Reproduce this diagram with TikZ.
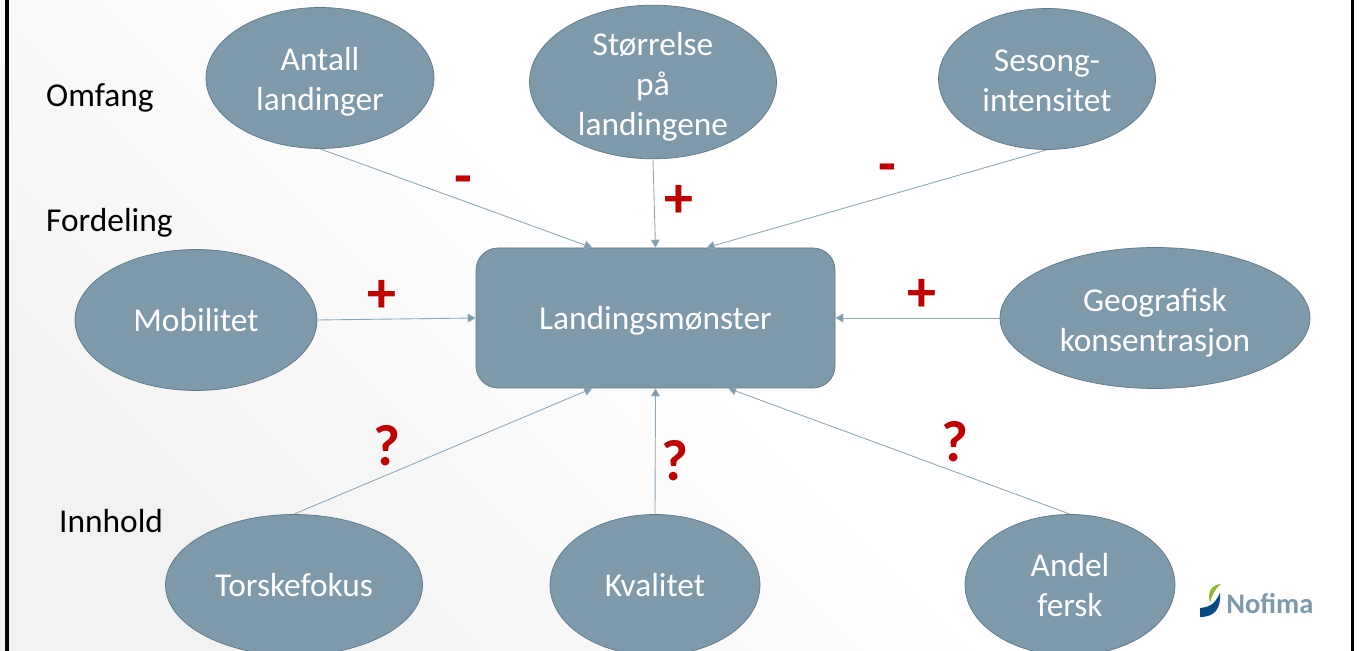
\documentclass[tikz,border=0pt]{standalone}
\usepackage{fontspec}
\setmainfont{Carlito}
\usetikzlibrary{arrows.meta,shapes.geometric}
\definecolor{slate}{HTML}{7E99AA}
\definecolor{slateline}{HTML}{5F7888}
\definecolor{linkcol}{HTML}{8FA8B8}
\definecolor{signred}{HTML}{C00000}
\definecolor{logoblue}{HTML}{0B4A80}
\definecolor{logogreen}{HTML}{8DB92E}
\newcommand{\lowtext}[2]{\raisebox{-#1pt}[\height][\depth]{#2}}
\tikzset{
  factor/.style={ellipse,draw=slateline,fill=slate,text=white,inner sep=0pt,minimum height=2.82cm,align=center,
    font=\fontsize{19}{22.7}\selectfont},
  link/.style={draw=linkcol,line width=0.5pt,-{Triangle[length=4.5pt,width=5pt,fill=slate]}},
  sign/.style={text=signred,font=\fontsize{33}{33}\selectfont\bfseries},
  level/.style={text=black,font=\fontsize{19}{22}\selectfont},
}
\begin{document}
\begin{tikzpicture}
  \clip (0,0) rectangle (27.18,13.02);
  \shade[top color=white,bottom color=black!5,middle color=white,shading angle=-45] (0,0) rectangle (27.18,13.02);
  \draw[line width=2pt,black] (0.14,0) -- (0.14,13.02);
  \draw[line width=2pt,black] (27.05,0) -- (27.05,13.02);

  \node[draw=slateline,fill=slate,text=white,rounded corners=0.44cm,minimum width=7.18cm,minimum height=2.8cm,
    font=\fontsize{19}{22}\selectfont] (landing) at (13.11,6.66) {\lowtext{1.7}{Landingsmønster}};

  \node[factor,minimum width=4.56cm] (antall) at (6.40,11.46) {\lowtext{2.3}{Antall}\\\lowtext{2.3}{landinger}};
  \node[factor,minimum width=4.94cm] (storrelse) at (13.06,11.38) {\lowtext{2.8}{Størrelse}\\\lowtext{2.8}{på}\\\lowtext{2.8}{landingene}};
  \node[factor,minimum width=4.34cm] (sesong) at (20.94,11.44) {\lowtext{1.2}{Sesong-}\\\lowtext{1.2}{intensitet}};
  \node[factor,minimum width=4.84cm] (mobilitet) at (3.92,6.62) {Mobilitet};
  \node[factor,minimum width=6.20cm] (geografisk) at (23.10,6.66) {\lowtext{2.8}{Geografisk}\\\lowtext{2.8}{konsentrasjon}};
  \node[factor,minimum width=5.14cm] (torsk) at (5.88,1.32) {Torskefokus};
  \node[factor,minimum width=4.20cm] (kvalitet) at (13.10,1.32) {Kvalitet};
  \node[factor,minimum width=4.20cm] (andel) at (21.40,1.32) {Andel\\fersk};

  \draw[link] (antall.south) -- (landing.132);
  \draw[link] (storrelse.south) -- (landing.north);
  \draw[link] (sesong.south) -- (landing.54);
  \draw[link] (mobilitet.east) -- (landing.west);
  \draw[link] (geografisk.west) -- (landing.east);
  \draw[link] (torsk.north) -- (landing.228);
  \draw[link] (kvalitet.north) -- (landing.south);
  \draw[link] (andel.north) -- (landing.-44);

  \node[sign] (s1) at (9.26,9.30) {-};
  \node[sign] (s2) at (13.57,9.00) {+};
  \node[sign] (s3) at (17.74,9.54) {-};
  \node[sign] (s4) at (7.63,7.10) {+};
  \node[sign] (s5) at (18.43,7.12) {+};
  \node[sign] (s6) at (7.74,4.10) {?};
  \node[sign] (s7) at (13.50,3.80) {?};
  \node[sign] (s8) at (19.10,4.18) {?};

  \node[level,anchor=west] (omfang) at (0.80,11.06) {Omfang};
  \node[level,anchor=west] (fordeling) at (0.80,8.56) {Fordeling};
  \node[level,anchor=west] (innhold) at (1.06,2.60) {Innhold};

  % logo
  \fill[logoblue] (24.0,0.68) -- (24.0,0.86) .. controls (24.25,0.88) and (24.32,1.0) .. (24.40,1.16)
    .. controls (24.42,0.85) and (24.3,0.68) .. (24.0,0.68);
  \fill[logogreen] (24.2,0.96) .. controls (24.14,1.18) and (24.22,1.32) .. (24.42,1.34)
    .. controls (24.30,1.25) and (24.24,1.12) .. (24.2,0.96);
  \node[anchor=west,inner sep=0pt,text=slate,font=\fontsize{16.2}{16}\selectfont\bfseries] (nofima) at (24.52,0.95) {Nofima};
\end{tikzpicture}
\end{document}
